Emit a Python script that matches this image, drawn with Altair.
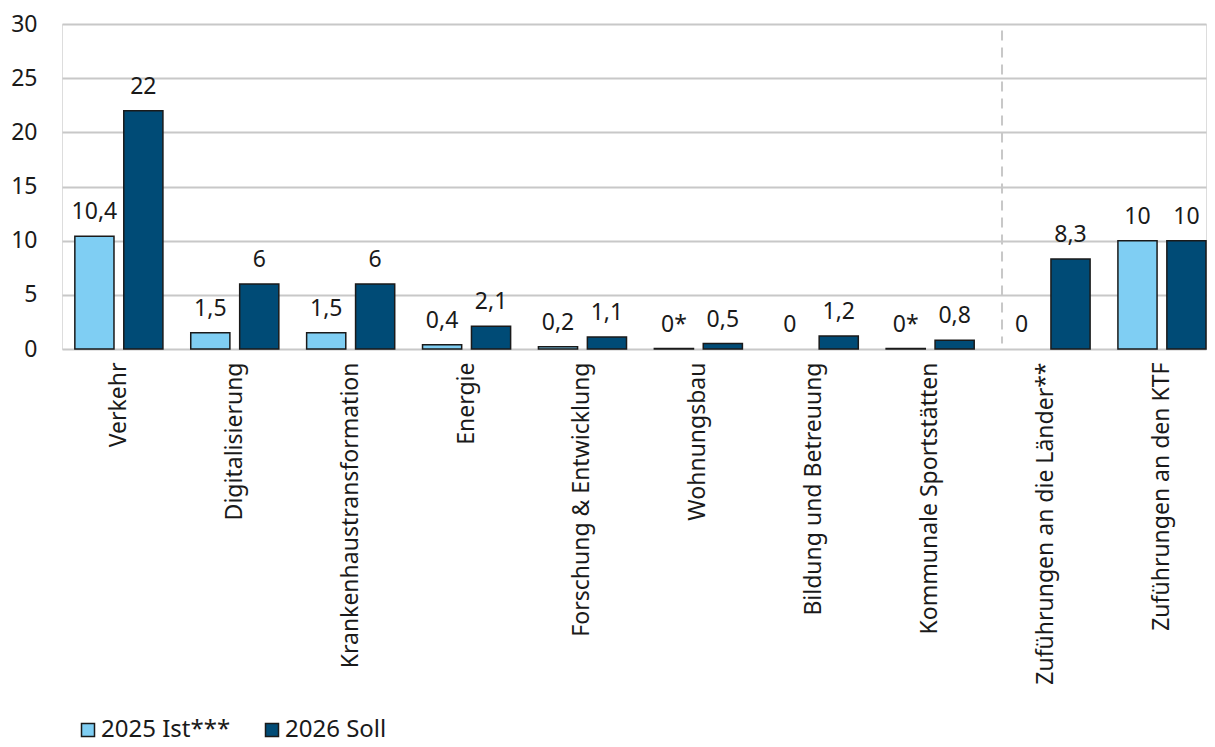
import altair as alt
import pandas as pd

categories = [
    "Verkehr",
    "Digitalisierung",
    "Krankenhaustransformation",
    "Energie",
    "Forschung & Entwicklung",
    "Wohnungsbau",
    "Bildung und Betreuung",
    "Kommunale Sportstätten",
    "Zuführungen an die Länder**",
    "Zuführungen an den KTF",
]
series = ["2025 Ist***", "2026 Soll"]
ist_2025 = [10.4, 1.5, 1.5, 0.4, 0.2, 0.04, 0, 0.04, 0, 10]
soll_2026 = [22, 6, 6, 2.1, 1.1, 0.5, 1.2, 0.8, 8.3, 10]
ist_labels = ["10,4", "1,5", "1,5", "0,4", "0,2", "0*", "0", "0*", "0", "10"]
soll_labels = ["22", "6", "6", "2,1", "1,1", "0,5", "1,2", "0,8", "8,3", "10"]
separator_before = ["Zuführungen an die Länder**"]
y_ticks = [0, 5, 10, 15, 20, 25, 30]
colors = ["#7FCEF3", "#004B76"]

rows = []
for c, v, l in zip(categories, ist_2025, ist_labels):
    rows.append({"cat": c, "series": series[0], "value": v, "label": l})
for c, v, l in zip(categories, soll_2026, soll_labels):
    rows.append({"cat": c, "series": series[1], "value": v, "label": l})
df = pd.DataFrame(rows)

FONT = "Noto Sans"
FS = 23

x_scale = alt.Scale(domain=categories, paddingInner=0.24, paddingOuter=0.0554, align=1)

x_enc = alt.X(
    "cat:N",
    scale=x_scale,
    axis=alt.Axis(
        title=None, labelAngle=-90, labelFontSize=FS, labelFont=FONT,
        labelColor="#1a1a1a", domain=False, ticks=False, labelPadding=13,
        labelLimit=400,
    ),
)
xoff = alt.XOffset(
    "series:N", scale=alt.Scale(domain=series, paddingInner=0.2)
)
y_enc = alt.Y(
    "value:Q",
    scale=alt.Scale(domain=[0, 30]),
    axis=alt.Axis(
        title=None, values=y_ticks, labelFontSize=FS, labelFont=FONT,
        labelColor="#1a1a1a", domain=False, ticks=False, labelPadding=25,
        gridColor="#C8C8C8", gridWidth=2,
    ),
)

base = alt.Chart(df)

bars = base.mark_bar(stroke="#1a1a1a", strokeWidth=1.5).encode(
    x=x_enc,
    xOffset=xoff,
    y=y_enc,
    color=alt.Color(
        "series:N",
        scale=alt.Scale(domain=series, range=colors),
        legend=alt.Legend(
            title=None, orient="none", legendX=14, legendY=694,
            direction="horizontal", symbolType="square", symbolSize=169,
            symbolStrokeColor="#1a1a1a", symbolStrokeWidth=1.5,
            labelFontSize=24, labelFont=FONT, labelColor="#1a1a1a",
            columnPadding=29, labelOffset=1,
        ),
    ),
).transform_filter(alt.datum.value > 0)

labels = base.mark_text(
    fontSize=FS, font=FONT, color="#1a1a1a", baseline="middle", dy=-24
).encode(
    x=alt.X("cat:N", scale=x_scale),
    xOffset=xoff,
    y=alt.Y("value:Q"),
    text="label:N",
)

sep_df = pd.DataFrame({"cat": separator_before, "top": [29.4], "bottom": [0.5]})
sep = alt.Chart(sep_df).mark_rule(
    color="#C8C8C8", strokeWidth=2, strokeDash=[10, 7]
).encode(
    x=alt.X("cat:N", bandPosition=0, scale=x_scale),
    y=alt.Y("top:Q"),
    y2="bottom:Q",
)

chart = alt.layer(bars, sep, labels).properties(
    width=1144, height=325,
    padding={"left": 2, "top": 5, "right": 0, "bottom": 2},
).configure_view(stroke=None).configure(background="white")

chart.save("out.html", embed_options={"renderer": "svg", "actions": False})
